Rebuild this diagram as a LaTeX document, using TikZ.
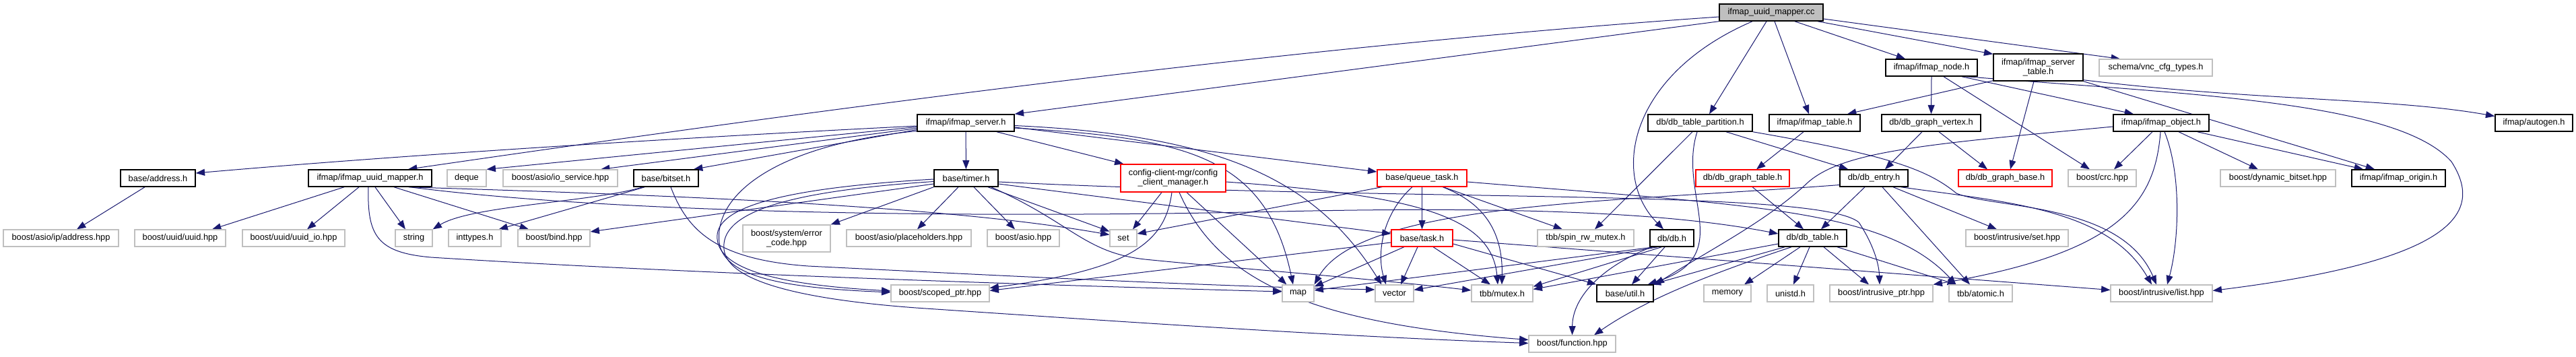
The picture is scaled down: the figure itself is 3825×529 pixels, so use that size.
\documentclass[tikz,border=0pt]{standalone}
\usepackage{fontspec}
\setmainfont{Liberation Sans}
\usetikzlibrary{arrows.meta,calc}
\definecolor{edgec}{HTML}{191970}
\definecolor{leafc}{HTML}{BFBFBF}
\pgfdeclarelayer{bg}
\pgfdeclarelayer{paper}
\pgfsetlayers{paper,bg,main}
\begin{document}
\begin{tikzpicture}[x=0.75pt,y=-0.75pt,
  box/.style={draw=black,line width=1.1pt,fill=white,rectangle,minimum height=18.75pt,inner sep=0pt,
    font=\fontsize{9.6}{10.5}\selectfont,align=center},
  leaf/.style={box,draw=leafc,line width=0.9pt},
  redb/.style={box,draw=red,line width=0.9pt},
  w/.style={minimum width=#1*0.75pt},
  dep/.style={draw=edgec,line width=0.75pt,-{Triangle[length=10pt,width=7.5pt]}}]
\begin{pgfonlayer}{paper}
\fill[white] (0,0) rectangle (3825,529);
\end{pgfonlayer}
\useasboundingbox (0,0) rectangle (3825,529);
% row A
\node[box,fill=leafc,w=154] (root) at (2630,18.5) {ifmap\_uuid\_mapper.cc};
% row B
\node[box,w=136] (inode) at (2868,100.5) {ifmap/ifmap\_node.h};
\node[box,w=133,minimum height=30pt] (stable) at (3026.5,100) {ifmap/ifmap\_server\\\_table.h};
\node[leaf,w=168] (vnc) at (3201,100.5) {schema/vnc\_cfg\_types.h};
% row C
\node[box,w=144] (server) at (1434,182.5) {ifmap/ifmap\_server.h};
\node[box,w=155] (part) at (2524.5,182.5) {db/db\_table\_partition.h};
\node[box,w=135] (itable) at (2694.5,182.5) {ifmap/ifmap\_table.h};
\node[box,w=147] (vertex) at (2867.5,182.5) {db/db\_graph\_vertex.h};
\node[box,w=142] (object) at (3209,182.5) {ifmap/ifmap\_object.h};
\node[box,w=115] (autogen) at (3762.5,182.5) {ifmap/autogen.h};
% row D
\node[box,w=111] (address) at (234.5,264.5) {base/address.h};
\node[box,w=183] (umapper) at (549.5,264.5) {ifmap/ifmap\_uuid\_mapper.h};
\node[leaf,w=58] (deque) at (693,264.5) {deque};
\node[leaf,w=170] (ioservice) at (832,264.5) {boost/asio/io\_service.hpp};
\node[box,w=96] (bitset) at (989,264.5) {base/bitset.h};
\node[box,w=95] (timer) at (1434.5,264.5) {base/timer.h};
\node[redb,w=156,minimum height=30.75pt] (ccm) at (1742,264.5) {config-client-mgr/config\\\_client\_manager.h};
\node[redb,w=133] (qtask) at (2111.5,264.5) {base/queue\_task.h};
\node[redb,w=139] (gtable) at (2587.5,264.5) {db/db\_graph\_table.h};
\node[box,w=101] (entry) at (2782.5,264.5) {db/db\_entry.h};
\node[redb,w=139] (gbase) at (2977.5,264.5) {db/db\_graph\_base.h};
\node[leaf,w=101] (crc) at (3121.5,264.5) {boost/crc.hpp};
\node[leaf,w=171] (dynbit) at (3382.5,264.5) {boost/dynamic\_bitset.hpp};
\node[box,w=139] (origin) at (3561.5,264.5) {ifmap/ifmap\_origin.h};
% row E
\node[leaf,w=171] (ipaddr) at (90.5,353.5) {boost/asio/ip/address.hpp};
\node[leaf,w=135] (uuid) at (267.5,353.5) {boost/uuid/uuid.hpp};
\node[leaf,w=152] (uuidio) at (436,353.5) {boost/uuid/uuid\_io.hpp};
\node[leaf,w=55] (string) at (614.5,353.5) {string};
\node[leaf,w=78] (inttypes) at (705,353.5) {inttypes.h};
\node[leaf,w=107] (bind) at (822.5,353.5) {boost/bind.hpp};
\node[leaf,w=130,minimum height=30pt] (errcode) at (1168,354) {boost/system/error\\\_code.hpp};
\node[leaf,w=185] (placeh) at (1349.5,353.5) {boost/asio/placeholders.hpp};
\node[leaf,w=107] (asio) at (1519.5,353.5) {boost/asio.hpp};
\node[leaf,w=40] (set) at (1668,353.5) {set};
\node[redb,w=91] (task) at (2111.5,353.5) {base/task.h};
\node[leaf,w=143] (spin) at (2354.5,353.5) {tbb/spin\_rw\_mutex.h};
\node[box,w=65] (db) at (2482.5,353.5) {db/db.h};
\node[box,w=101] (dbtable) at (2691.5,353.5) {db/db\_table.h};
\node[leaf,w=152] (iset) at (2995,353.5) {boost/intrusive/set.hpp};
% row F
\node[leaf,w=146] (scoped) at (1396,435.5) {boost/scoped\_ptr.hpp};
\node[leaf,w=47] (map) at (1927.5,435.5) {map};
\node[leaf,w=57] (vector) at (2070.5,435.5) {vector};
\node[leaf,w=91] (mutex) at (2230.5,435.5) {tbb/mutex.h};
\node[box,w=84] (util) at (2413,435.5) {base/util.h};
\node[leaf,w=70] (memory) at (2565,435.5) {memory};
\node[leaf,w=69] (unistd) at (2658.5,435.5) {unistd.h};
\node[leaf,w=153] (iptr) at (2793.5,435.5) {boost/intrusive\_ptr.hpp};
\node[leaf,w=94] (atomic) at (2941,435.5) {tbb/atomic.h};
\node[leaf,w=151] (ilist) at (3209.5,435.5) {boost/intrusive/list.hpp};
% row G
\node[leaf,w=129] (function) at (2334.5,510.5) {boost/function.hpp};

\begin{pgfonlayer}{bg}
% root
\draw[dep] ($(root.west)+(0,6.5)$) .. controls (1900,70) and (1200,165) .. ($(umapper.north)+(56.5,0)$);
\draw[dep] (root.south west) -- (server.north east);
\draw[dep] ($(root.south)+(-28,0)$) .. controls (2420,110) and (2390,260) .. ($(db.north)+(-12.5,0)$);
\draw[dep] ($(root.south)+(-7,0)$) -- ($(part.north)+(13.5,0)$);
\draw[dep] ($(root.south)+(5,0)$) -- ($(itable.north)+(-8.5,0)$);
\draw[dep] ($(root.south)+(35,0)$) -- ($(inode.north)+(-39,0)$);
\draw[dep] ($(root.south)+(69,0)$) -- ($(stable.north west)+(0,1)$);
\draw[dep] ($(root.east)+(0,9.5)$) -- ($(vnc.north)+(-53,0)$);
% ifmap_node
\draw[dep] (inode.south) -- (vertex.north);
\draw[dep] ($(inode.south)+(18,0)$) -- ($(crc.north)+(-18.5,0)$);
\draw[dep] ($(inode.south)+(45,0)$) -- ($(object.north)+(-41,0)$);
\draw[dep] ($(inode.south)+(52,0)$) .. controls (3250,140) and (3560,150) .. (3640,240) .. controls (3685,310) and (3660,385) .. ($(ilist.east)+(0,-4)$);
% server table
\draw[dep] ($(stable.south west)+(0,-1)$) -- ($(itable.north)+(48.5,0)$);
\draw[dep] ($(stable.south)+(-6.5,0)$) -- ($(gbase.north)+(7.5,0)$);
\draw[dep] ($(stable.south east)+(0,-2)$) .. controls (3350,150) and (3550,145) .. ($(autogen.west)+(0,-10)$);
\draw[dep] (stable.south east) -- ($(origin.north)+(-35.5,0)$);
% ifmap_object
\draw[dep] ($(object.south)+(-13,0)$) -- ($(crc.north)+(17.5,0)$);
\draw[dep] ($(object.south)+(-1,0)$) .. controls (3200,300) and (3150,375) .. (iptr.north east);
\draw[dep] ($(object.south)+(5,0)$) .. controls (3240,260) and (3235,360) .. ($(ilist.north)+(8.5,0)$);
\draw[dep] ($(object.south)+(26,0)$) -- ($(dynbit.north)+(-29.5,0)$);
\draw[dep] ($(object.south east)+(-18,0)$) -- ($(origin.north)+(-52.5,0)$);
\draw[dep] ($(object.west)+(0,5.5)$) .. controls (2850,215) and (2730,225) .. (2680,275) .. controls (2620,330) and (2540,370) .. ($(util.north east)+(2,0)$);
% db_table_partition
\draw[dep] ($(part.south)+(-11.5,0)$) -- ($(spin.north)+(13.5,0)$);
\draw[dep] ($(part.south)+(-4.5,0)$) .. controls (2490,290) and (2580,380) .. ($(util.north east)+(-9,0)$);
\draw[dep] ($(part.south)+(38.5,0)$) -- ($(entry.north west)+(13,0)$);
\draw[dep] (part.south east) .. controls (2800,230) and (2860,250) .. (2905,287) .. controls (2960,310) and (3150,300) .. ($(ilist.north)+(-7.5,0)$);
% vertex, tables
\draw[dep] ($(vertex.south)+(-13.5,0)$) -- ($(entry.north)+(16.5,0)$);
\draw[dep] ($(vertex.south)+(11.5,0)$) -- ($(gbase.north)+(-26.5,0)$);
\draw[dep] ($(itable.south)+(-16.5,0)$) -- ($(gtable.north)+(20.5,0)$);
\draw[dep] ($(gtable.south)+(14.5,0)$) -- ($(dbtable.north)+(-13.5,0)$);
% db_entry
\draw[dep] ($(entry.south)+(-13.5,0)$) -- ($(dbtable.north)+(12.5,0)$);
\draw[dep] ($(entry.south)+(12.5,0)$) -- ($(atomic.north)+(-16,0)$);
\draw[dep] ($(entry.south)+(28.5,0)$) -- ($(iset.north)+(-30,0)$);
\draw[dep] ($(entry.south east)+(-11,0)$) .. controls (2980,300) and (3130,310) .. ($(ilist.north)+(-14.5,0)$);
\draw[dep] ($(entry.west)+(0,10)$) .. controls (2400,300) and (2020,300) .. (map.north east);
% db_table
\draw[dep] ($(dbtable.south)+(-18.5,0)$) -- ($(memory.north)+(25,0)$);
\draw[dep] ($(dbtable.south)+(-4.5,0)$) -- ($(unistd.north)+(4.5,0)$);
\draw[dep] ($(dbtable.south)+(16.5,0)$) -- ($(iptr.north)+(-18.5,0)$);
\draw[dep] ($(dbtable.south)+(36.5,0)$) -- ($(atomic.north)+(-36,0)$);
\draw[dep] ($(dbtable.south)+(-41.5,0)$) -- ($(util.north east)+(-3,0)$);
\draw[dep] ($(dbtable.south)+(-31.5,0)$) .. controls (2560,400) and (2450,440) .. ($(function.north)+(32.5,0)$);
\draw[dep] ($(dbtable.west)+(0,8.5)$) -- ($(mutex.east)+(0,-6)$);
% db
\draw[dep] ($(db.south west)+(7,0)$) -- ($(map.east)+(0,-4.5)$);
\draw[dep] ($(db.south west)+(12,0)$) -- ($(vector.east)+(0,-5)$);
\draw[dep] ($(db.south west)+(18,0)$) -- ($(mutex.north east)+(0,3)$);
\draw[dep] ($(db.south)+(-10.5,0)$) -- ($(util.north)+(10,0)$);
\draw[dep] ($(db.south west)+(3,0)$) .. controls (2380,395) and (2335,440) .. (function.north);
% task
\draw[dep] ($(task.south)+(-26.5,0)$) -- ($(map.east)+(0,-10)$);
\draw[dep] ($(task.south)+(-6.5,0)$) -- ($(vector.north)+(9.5,0)$);
\draw[dep] ($(task.south)+(16.5,0)$) -- ($(mutex.north)+(-17.5,0)$);
\draw[dep] ($(task.east)+(0,8.5)$) -- (util.north west);
\draw[dep] ($(task.east)+(0,2.5)$) -- ($(ilist.west)+(0,-5)$);
\draw[dep] ($(task.west)+(0,6.5)$) -- ($(scoped.east)+(0,-4)$);
% queue_task
\draw[dep] (qtask) -- (task);
\draw[dep] ($(qtask.south)+(-14.5,0)$) .. controls (2050,320) and (2045,380) .. ($(vector.north)+(-12.5,0)$);
\draw[dep] ($(qtask.south)+(30.5,0)$) .. controls (2200,300) and (2232,340) .. ($(mutex.north)+(-0.5,0)$);
\draw[dep] ($(qtask.south)+(31.5,0)$) -- ($(spin.north)+(-34.5,0)$);
\draw[dep] ($(qtask.south west)+(8,0)$) -- ($(set.east)+(0,-6.5)$);
\draw[dep] ($(qtask.east)+(0,5.5)$) .. controls (2600,305) and (2800,310) .. ($(atomic.north west)+(11,0)$);
% timer
\draw[dep] ($(timer.south)+(-11.5,0)$) -- ($(placeh.north)+(12.5,0)$);
\draw[dep] ($(timer.south)+(11.5,0)$) -- ($(asio.north)+(-12.5,0)$);
\draw[dep] ($(timer.south)+(32.5,0)$) -- ($(set.west)+(0,-10)$);
\draw[dep] ($(timer.south east)+(-11,0)$) .. controls (1590,330) and (1610,375) .. (1700,385) .. controls (1850,400) and (2000,410) .. ($(mutex.west)+(0,-4.5)$);
\draw[dep] ($(timer.east)+(0,8.5)$) -- ($(task.west)+(0,-6.5)$);
\draw[dep] ($(timer.east)+(0,5.5)$) .. controls (2100,300) and (2700,280) .. (2760,330) .. controls (2780,360) and (2790,390) .. ($(iptr.north)+(-2.5,0)$);
\draw[dep] (timer.south west) -- (errcode.north east);
\draw[dep] ($(timer.west)+(0,8.5)$) -- ($(bind.east)+(0,-9.5)$);
\draw[dep] ($(timer.west)+(0,1.5)$) .. controls (1150,280) and (1060,310) .. (1065,355) .. controls (1070,410) and (1200,425) .. ($(scoped.west)+(0,-3.5)$);
\draw[dep] ($(timer.west)+(0,5)$) .. controls (1150,285) and (1070,320) .. (1075,370) .. controls (1080,420) and (1200,445) .. (1360,457) .. controls (1700,480) and (2000,500) .. ($(function.west)+(0,-1)$);
% ifmap_server
\draw[dep] (server) -- (timer);
\draw[dep] ($(server.south)+(46,0)$) -- ($(ccm.north west)+(5,0)$);
\draw[dep] ($(server.east)+(0,7.5)$) .. controls (1760,205) and (1880,230) .. ($(map.north)+(-7.5,0)$);
\draw[dep] ($(server.east)+(0,6.5)$) -- ($(qtask.west)+(0,-9.5)$);
\draw[dep] ($(server.east)+(0,4)$) .. controls (1800,200) and (1950,260) .. ($(vector.north west)+(10,0)$);
\draw[dep] ($(server.west)+(0,4.5)$) .. controls (1000,205) and (600,230) .. ($(address.east)+(0,-7.5)$);
\draw[dep] ($(server.west)+(0,6)$) -- (deque.north east);
\draw[dep] ($(server.west)+(0,8)$) -- ($(ioservice.north)+(60,0)$);
\draw[dep] ($(server.west)+(0,10)$) -- ($(bitset.north)+(41,0)$);
\draw[dep] ($(server.west)+(0,12)$) .. controls (1150,215) and (1060,290) .. (1068,360) .. controls (1075,415) and (1180,428) .. ($(scoped.west)+(0,-1.5)$);
% config client manager
\draw[dep] ($(ccm.south)+(-17,0)$) -- ($(set.north)+(14,0)$);
\draw[dep] ($(ccm.south)+(-2,0)$) .. controls (1730,360) and (1680,400) .. ($(scoped.east)+(0,-8)$);
\draw[dep] ($(ccm.south)+(20,0)$) -- ($(map.north west)+(7,0)$);
\draw[dep] ($(ccm.south)+(9,0)$) .. controls (1810,420) and (1950,480) .. ($(function.west)+(0,-6)$);
\draw[dep] ($(ccm.east)+(0,5.5)$) .. controls (2100,290) and (2215,320) .. ($(mutex.north)+(-6.5,0)$);
% uuid mapper
\draw[dep] ($(umapper.south)+(-38.5,0)$) -- ($(uuid.north)+(47.5,0)$);
\draw[dep] ($(umapper.south)+(-16.5,0)$) -- ($(uuidio.north)+(20,0)$);
\draw[dep] ($(umapper.south)+(7.5,0)$) -- ($(string.north)+(-12.5,0)$);
\draw[dep] ($(umapper.south)+(35.5,0)$) -- ($(bind.north)+(-37.5,0)$);
\draw[dep] ($(umapper.south)+(-2.5,0)$) .. controls (545,350) and (560,375) .. (640,382) .. controls (1000,405) and (1500,422) .. ($(map.west)+(0,-2.5)$);
\draw[dep] ($(umapper.south east)+(-35,0)$) .. controls (1000,290) and (1400,305) .. ($(set.west)+(0,-5)$);
\draw[dep] ($(umapper.south east)+(-33,0)$) .. controls (900,315) and (1400,325) .. (1900,314) .. controls (2300,305) and (2500,320) .. ($(dbtable.west)+(0,-6.5)$);
% bitset
\draw[dep] ($(bitset.south west)+(14,0)$) .. controls (880,300) and (700,305) .. (string.north east);
\draw[dep] ($(bitset.south west)+(17,0)$) -- ($(inttypes.north east)+(-4,0)$);
\draw[dep] ($(bitset.south)+(7,0)$) .. controls (1020,340) and (1060,385) .. (1200,395) .. controls (1500,410) and (1800,425) .. ($(vector.west)+(0,-5.5)$);
% address
\draw[dep] ($(address.south)+(-19.5,0)$) -- ($(ipaddr.north)+(23.5,0)$);
\end{pgfonlayer}
\end{tikzpicture}
\end{document}
